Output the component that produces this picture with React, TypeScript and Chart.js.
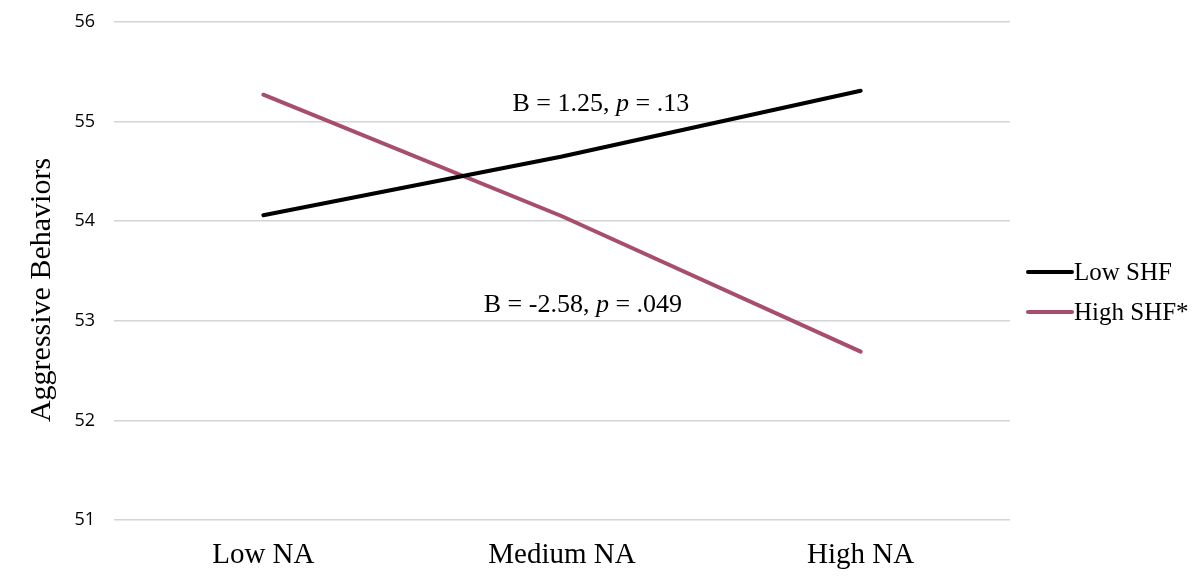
import React, { useEffect, useRef } from "react";
import { Chart, registerables } from "chart.js";

Chart.register(...registerables);

const categories = ["Low NA", "Medium NA", "High NA"];
const lowSHF = [54.06, 54.65, 55.31];
const highSHF = [55.27, 54.05, 52.69];
const seriesNames = ["Low SHF", "High SHF*"];
const yTicks = [51, 52, 53, 54, 55, 56];
const annotations = [
  { pre: "B = 1.25, ", post: " = .13", x: 1.13, y: 55.17 },
  { pre: "B = -2.58, ", post: " = .049", x: 1.07, y: 53.16 },
];

const BLACK = "#000000";
const MAUVE = "#a64e6b";
const SERIF = "'Liberation Serif', 'Times New Roman', serif";
const SANS = "'Open Sans', 'Noto Sans', sans-serif";

const overlayPlugin = {
  id: "overlay",
  afterDraw(chart: any) {
    const ctx = chart.ctx;
    const xs = chart.scales.x;
    const ys = chart.scales.y;
    ctx.save();
    ctx.fillStyle = "#000";
    ctx.textBaseline = "middle";
    for (const a of annotations) {
      const normal = "26px " + SERIF;
      const ital = "italic 26px " + SERIF;
      ctx.font = normal;
      const w1 = ctx.measureText(a.pre).width;
      const w3 = ctx.measureText(a.post).width;
      ctx.font = ital;
      const w2 = ctx.measureText("p").width;
      const total = w1 + w2 + w3;
      const cx = xs.getPixelForValue(0) + (xs.getPixelForValue(1) - xs.getPixelForValue(0)) * a.x;
      const cy = ys.getPixelForValue(a.y);
      let x = cx - total / 2;
      ctx.textAlign = "left";
      ctx.font = normal;
      ctx.fillText(a.pre, x, cy);
      x += w1;
      ctx.font = ital;
      ctx.fillText("p", x, cy);
      x += w2;
      ctx.font = normal;
      ctx.fillText(a.post, x, cy);
    }
    const colors = [BLACK, MAUVE];
    const lx = chart.chartArea.right + 18;
    const ly0 = 272;
    seriesNames.forEach((name, i) => {
      const y = ly0 + i * 40;
      ctx.strokeStyle = colors[i];
      ctx.lineWidth = 4;
      ctx.lineCap = "round";
      ctx.beginPath();
      ctx.moveTo(lx, y);
      ctx.lineTo(lx + 44, y);
      ctx.stroke();
      ctx.font = "25px " + SERIF;
      ctx.fillStyle = "#000";
      ctx.textAlign = "left";
      ctx.textBaseline = "middle";
      ctx.fillText(name, lx + 46, y + 1);
    });
    ctx.save();
    ctx.translate(42, 290);
    ctx.rotate(-Math.PI / 2);
    ctx.font = "30px " + SERIF;
    ctx.textAlign = "center";
    ctx.textBaseline = "middle";
    ctx.fillText("Aggressive Behaviors", 0, 0);
    ctx.restore();
    ctx.restore();
  },
};

export default function App() {
  const ref = useRef<HTMLCanvasElement>(null);
  useEffect(() => {
    if (!ref.current) return;
    const chart = new Chart(ref.current, {
      type: "line",
      data: {
        labels: categories,
        datasets: [
          {
            label: seriesNames[0],
            data: lowSHF,
            borderColor: BLACK,
            backgroundColor: BLACK,
            borderWidth: 4,
            pointRadius: 0,
            tension: 0,
            borderCapStyle: "round",
          },
          {
            label: seriesNames[1],
            data: highSHF,
            borderColor: MAUVE,
            backgroundColor: MAUVE,
            borderWidth: 4,
            pointRadius: 0,
            tension: 0,
            borderCapStyle: "round",
          },
        ],
      },
      options: {
        animation: false,
        responsive: false,
        layout: { padding: { left: 0, right: 183, top: 22, bottom: 0 } },
        plugins: { legend: { display: false }, tooltip: { enabled: false } },
        scales: {
          x: {
            offset: true,
            grid: { display: false, drawTicks: false },
            border: { display: false },
            ticks: {
              padding: 18,
              color: "#000",
              font: { family: SERIF, size: 29 },
            },
            afterFit(scale: any) {
              scale.height = 56;
              scale.paddingLeft = 0;
              scale.paddingRight = 0;
            },
          },
          y: {
            min: 51,
            max: 56,
            afterBuildTicks(scale: any) {
              scale.ticks = yTicks.map((v) => ({ value: v }));
            },
            grid: { color: "#d4d4d4", lineWidth: 1.5, drawTicks: false },
            border: { display: false },
            ticks: {
              padding: 19,
              color: "#000",
              font: { family: SANS, size: 18 },
            },
            afterFit(scale: any) {
              scale.width = 114;
              scale.paddingTop = 0;
              scale.paddingBottom = 0;
            },
          },
        },
      },
      plugins: [overlayPlugin],
    });
    return () => chart.destroy();
  }, []);
  return (
    <div style={{ position: "absolute", left: 0, top: 0, width: 1193, height: 576, background: "#fff" }}>
      <canvas ref={ref} width={1193} height={576} />
    </div>
  );
}
